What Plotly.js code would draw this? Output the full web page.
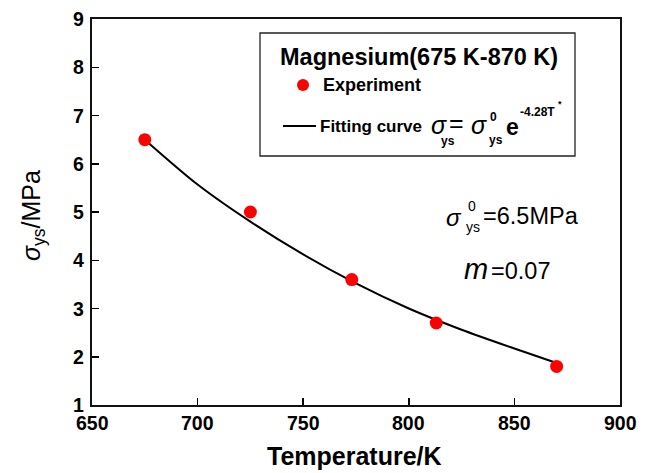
<!DOCTYPE html>
<html>
<head>
<meta charset="utf-8">
<script src="https://cdn.plot.ly/plotly-3.0.1.min.js"></script>
<style>html,body{margin:0;padding:0;background:#fff;}#chart{width:648px;height:473px;}</style>
</head>
<body>
<div id="chart"></div>
<script>
var expT = [675, 725, 773, 813, 870];
var expS = [6.5, 5.0, 3.6, 2.7, 1.8];
// Fitting curve
var fitT = [675, 700, 725, 750, 775, 800, 825, 850, 870];
var fitS = [6.5, 5.57, 4.8, 4.12, 3.52, 3.0, 2.56, 2.17, 1.87];
// Tick values / labels
var xTicks = [650, 700, 750, 800, 850, 900];
var yTicks = [1, 2, 3, 4, 5, 6, 7, 8, 9];

var W = 648, H = 473;
var M = {l: 92, r: 28, t: 19, b: 68};
var PW = W - M.l - M.r, PH = H - M.t - M.b;
function px(x) { return (x - M.l) / PW; }
function py(y) { return (H - M.b - y) / PH; }

var FF = 'Liberation Sans, Arial, sans-serif';

function ann(text, x, y, size, opts) {
  opts = opts || {};
  return {
    text: text,
    xref: 'paper', yref: 'paper', x: px(x), y: py(y),
    xanchor: opts.xanchor || 'left', yanchor: opts.yanchor || 'middle',
    showarrow: false, textangle: opts.angle || 0, borderpad: 0,
    font: {family: FF, size: size, color: '#000', weight: opts.bold ? 'bold' : 'normal'}
  };
}

var traces = [
  {x: fitT, y: fitS, type: 'scatter', mode: 'lines', name: 'Fitting curve',
   line: {color: '#000', width: 2, shape: 'spline', smoothing: 0.8}, hoverinfo: 'skip'},
  {x: expT, y: expS, type: 'scatter', mode: 'markers', name: 'Experiment',
   marker: {color: '#ff0000', size: 13, line: {width: 0}}}
];

var annotations = [
  // legend texts
  ann('Magnesium(675 K-870 K)', 419, 57, 23.5, {bold: true, xanchor: 'center'}),
  ann('Experiment', 322, 85, 18, {bold: true}),
  ann('Fitting curve', 319, 126, 17, {bold: true}),
  ann('<i>σ</i>', 430, 125, 25, {}),
  ann('ys', 440, 141, 12, {bold: true}),
  ann('=', 448, 123, 25, {}),
  ann('<i>σ</i>', 470, 125, 25, {}),
  ann('0', 489, 117, 12, {bold: true}),
  ann('ys', 488, 140, 12, {bold: true}),
  ann('e', 505, 127, 23, {bold: true}),
  ann('-4.28T', 519, 112, 12, {bold: true}),
  ann('*', 557, 104, 9, {bold: true}),
  // in-plot texts
  ann('<i>σ</i>', 445, 217, 24, {}),
  ann('0', 467, 206, 14, {}),
  ann('ys', 465, 227, 14, {}),
  ann('=6.5MPa', 482, 216, 23.5, {}),
  ann('<i>m</i>', 463, 269, 29, {}),
  ann('=0.07', 490, 271, 23.5, {}),
  // axis titles
  ann('Temperature/K', 354, 456, 25, {bold: true, xanchor: 'center'}),
  ann('<i>σ</i><sub>ys</sub>/MPa', 33, 216, 25, {xanchor: 'center', angle: -90})
];

// bold tick labels placed through the axes' own scales
xTicks.forEach(function (v) {
  annotations.push({
    text: String(v), xref: 'x', yref: 'paper', x: v, y: py(423),
    xanchor: 'center', yanchor: 'middle', showarrow: false, borderpad: 0,
    font: {family: FF, size: 19.5, color: '#000', weight: 'bold'}
  });
});
yTicks.forEach(function (v) {
  annotations.push({
    text: String(v), xref: 'paper', yref: 'y', x: px(85), y: v,
    xanchor: 'right', yanchor: 'middle', showarrow: false, borderpad: 0,
    font: {family: FF, size: 19.5, color: '#000', weight: 'bold'}
  });
});

var shapes = [
  {type: 'rect', xref: 'paper', yref: 'paper', x0: px(260), x1: px(575), y0: py(156), y1: py(33),
   line: {color: '#222', width: 1.3}, fillcolor: 'rgba(0,0,0,0)'},
  {type: 'circle', xref: 'paper', yref: 'paper', x0: px(297), x1: px(309), y0: py(91), y1: py(79),
   line: {width: 0}, fillcolor: '#ff0000'},
  {type: 'line', xref: 'paper', yref: 'paper', x0: px(283), x1: px(316), y0: py(126), y1: py(126),
   line: {color: '#000', width: 2}}
];

var axisCommon = {
  showgrid: false, zeroline: false, showline: true, linecolor: '#111', linewidth: 2,
  mirror: true, ticks: 'inside', ticklen: 7, tickwidth: 1.5, tickcolor: '#000',
  showticklabels: false
};

var layout = {
  width: W, height: H,
  margin: M,
  paper_bgcolor: '#fff', plot_bgcolor: '#fff',
  showlegend: false,
  xaxis: Object.assign({}, axisCommon, {range: [650, 900], tickvals: xTicks}),
  yaxis: Object.assign({}, axisCommon, {range: [1, 9], tickvals: yTicks}),
  annotations: annotations,
  shapes: shapes
};

Plotly.newPlot('chart', traces, layout, {displayModeBar: false, staticPlot: true});
</script>
</body>
</html>
